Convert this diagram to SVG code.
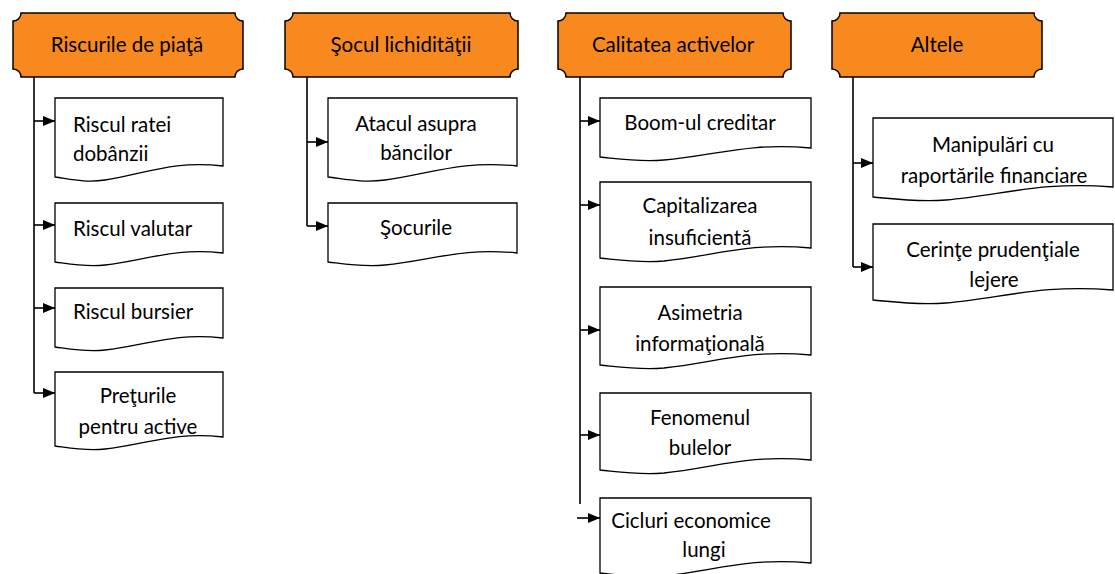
<svg xmlns="http://www.w3.org/2000/svg" width="1115" height="574" viewBox="0 0 1115 574">
<style>
.hdr{fill:#F7891F;stroke:#000;stroke-width:1.5}
.doc{fill:#fff;stroke:#000;stroke-width:1.3}
.t{font-family:Lato,"Liberation Sans",sans-serif;font-size:20.5px;fill:#000}
.c{text-anchor:middle}
.ln{fill:none;stroke:#000;stroke-width:1.6}
</style>
<defs>
<marker id="ah" markerUnits="userSpaceOnUse" markerWidth="12" markerHeight="11" refX="12" refY="5.5" orient="auto">
<path d="M0,0.5 L12,5.5 L0,10.5 Z" fill="#000"/>
</marker>
</defs>
<rect width="1115" height="574" fill="#fff"/>

<g id="connectors">
<path class="ln" d="M34,77 V393"/>
<path class="ln" d="M34,121 H55" marker-end="url(#ah)"/>
<path class="ln" d="M34,225 H55" marker-end="url(#ah)"/>
<path class="ln" d="M34,308 H55" marker-end="url(#ah)"/>
<path class="ln" d="M34,393 H55" marker-end="url(#ah)"/>
<path class="ln" d="M307,77 V226"/>
<path class="ln" d="M307,142 H328" marker-end="url(#ah)"/>
<path class="ln" d="M307,226 H328" marker-end="url(#ah)"/>
<path class="ln" d="M580,77 V504"/>
<path class="ln" d="M580,121 H600" marker-end="url(#ah)"/>
<path class="ln" d="M580,205 H600" marker-end="url(#ah)"/>
<path class="ln" d="M580,330 H600" marker-end="url(#ah)"/>
<path class="ln" d="M580,435 H600" marker-end="url(#ah)"/>
<path class="ln" d="M577,518 H600" marker-end="url(#ah)"/>
<path class="ln" d="M853,77 V267"/>
<path class="ln" d="M853,163 H873" marker-end="url(#ah)"/>
<path class="ln" d="M853,267 H873" marker-end="url(#ah)"/>
</g>

<g id="h1">
<path class="hdr" d="M21,13 H235 A8,8 0 0 0 243,21 V69 A8,8 0 0 0 235,77 H21 A8,8 0 0 0 13,69 V21 A8,8 0 0 0 21,13 Z"/>
<text class="t c" x="127" y="52">Riscurile de piaţă</text>
</g>
<g id="h2">
<path class="hdr" d="M293,13 H510 A8,8 0 0 0 518,21 V69 A8,8 0 0 0 510,77 H293 A8,8 0 0 0 285,69 V21 A8,8 0 0 0 293,13 Z"/>
<text class="t c" x="401" y="52">Şocul lichidităţii</text>
</g>
<g id="h3">
<path class="hdr" d="M566,13 H783 A8,8 0 0 0 791,21 V69 A8,8 0 0 0 783,77 H566 A8,8 0 0 0 558,69 V21 A8,8 0 0 0 566,13 Z"/>
<text class="t c" x="673" y="52">Calitatea activelor</text>
</g>
<g id="h4">
<path class="hdr" d="M840,13 H1034 A8,8 0 0 0 1042,21 V69 A8,8 0 0 0 1034,77 H840 A8,8 0 0 0 832,69 V21 A8,8 0 0 0 840,13 Z"/>
<text class="t c" x="937" y="52">Altele</text>
</g>

<g id="n1a">
<path class="doc" d="M55,98 H223 V166 C173,160 145,174 105,180 C85,183 70,179 55,177 Z"/>
<text class="t" x="73" y="132">Riscul ratei</text>
<text class="t" x="73" y="161">dobânzii</text>
</g>
<g id="n1b">
<path class="doc" d="M55,203 H223 V253 C173,247 145,261 105,265 C85,267 70,264 55,262 Z"/>
<text class="t" x="73" y="236">Riscul valutar</text>
</g>
<g id="n1c">
<path class="doc" d="M55,288 H223 V338 C173,332 145,346 105,350 C85,352 70,349 55,347 Z"/>
<text class="t" x="73" y="319">Riscul bursier</text>
</g>
<g id="n1d">
<path class="doc" d="M55,372 H223 V437 C173,431 145,445 105,449 C85,451 70,448 55,446 Z"/>
<text class="t c" x="138" y="403">Preţurile</text>
<text class="t c" x="138" y="434">pentru active</text>
</g>

<g id="n2a">
<path class="doc" d="M328,98 H517 V166 C461,160 430,174 385,180 C362,183 345,179 328,177 Z"/>
<text class="t c" x="416" y="131">Atacul asupra</text>
<text class="t c" x="416" y="160">băncilor</text>
</g>
<g id="n2b">
<path class="doc" d="M328,203 H517 V253 C461,247 430,261 385,265 C362,267 345,264 328,262 Z"/>
<text class="t c" x="416" y="235">Şocurile</text>
</g>

<g id="n3a">
<path class="doc" d="M600,98 H811 V148 C748,142 714,156 664,160 C638,162 620,159 600,157 Z"/>
<text class="t c" x="700" y="130">Boom-ul creditar</text>
</g>
<g id="n3b">
<path class="doc" d="M600,182 H811 V248 C748,242 714,256 664,261 C638,263 620,260 600,258 Z"/>
<text class="t c" x="700" y="213">Capitalizarea</text>
<text class="t c" x="700" y="245">insuficientă</text>
</g>
<g id="n3c">
<path class="doc" d="M600,287 H811 V355 C748,349 714,363 664,368 C638,370 620,367 600,365 Z"/>
<text class="t c" x="700" y="320">Asimetria</text>
<text class="t c" x="700" y="351">informaţională</text>
</g>
<g id="n3d">
<path class="doc" d="M600,393 H811 V460 C748,454 714,468 664,473 C638,475 620,472 600,470 Z"/>
<text class="t c" x="700" y="425">Fenomenul</text>
<text class="t c" x="700" y="455">bulelor</text>
</g>
<g id="n3e">
<path class="doc" d="M600,498 H811 V563 C748,557 714,571 664,576 C638,578 620,575 600,573 Z"/>
<text class="t c" x="691" y="528">Cicluri economice</text>
<text class="t c" x="704" y="557">lungi</text>
</g>

<g id="n4a">
<path class="doc" d="M873,118 H1113 V187 C1041,181 1003,195 946,200 C916,202 895,199 873,197 Z"/>
<text class="t c" x="993" y="152">Manipulări cu</text>
<text class="t c" x="994" y="183">raportările financiare</text>
</g>
<g id="n4b">
<path class="doc" d="M873,224 H1113 V290 C1041,284 1003,298 946,303 C916,305 895,302 873,300 Z"/>
<text class="t c" x="993" y="257">Cerinţe prudenţiale</text>
<text class="t c" x="994" y="287">lejere</text>
</g>
</svg>
